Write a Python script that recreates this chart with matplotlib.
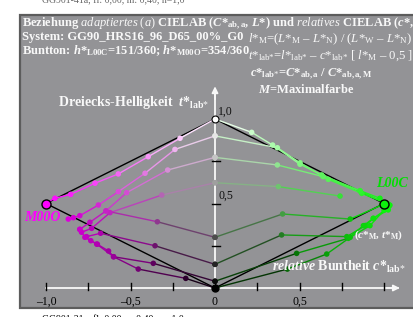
import numpy as np
import matplotlib
matplotlib.use("Agg")
from matplotlib import pyplot as plt
from matplotlib.patches import Rectangle

plt.rcParams['font.family'] = ['Liberation Serif', 'DejaVu Serif']
plt.rcParams['mathtext.fontset'] = 'custom'
plt.rcParams['mathtext.rm'] = 'Liberation Serif'
plt.rcParams['mathtext.it'] = 'Liberation Serif:italic'
plt.rcParams['mathtext.bf'] = 'Liberation Serif:bold'
plt.rcParams['mathtext.bfit'] = 'Liberation Serif:italic:bold'

# left side (hue M00O), relative chroma plotted negative
magenta_c = [
    [0, -0.207, -0.395, -0.572, -0.71, -0.854, -0.947, -1.0],
    [0, -0.237, -0.414, -0.572, -0.69, -0.80, -0.838, -0.868],
    [0, -0.28, -0.523, -0.645, -0.74, -0.80],
    [0, -0.315, -0.621, -0.73, -0.79],
    [0, -0.341, -0.645],
    [0, -0.355, -0.677, -0.76],
    [0, -0.365, -0.60, -0.63, -0.696, -0.735],
    [0, -0.173, -0.454, -0.60, -0.70, -0.77, -0.80],
]
magenta_t = [
    [1.0, 0.886, 0.777, 0.675, 0.62, 0.554, 0.531, 0.503],
    [0.90, 0.82, 0.679, 0.570, 0.491, 0.428, 0.416, 0.408],
    [0.773, 0.698, 0.564, 0.456, 0.389, 0.347],
    [0.623, 0.55, 0.446, 0.353, 0.33],
    [0.30, 0.392, 0.456],
    [0.14, 0.25, 0.324, 0.304],
    [0.04, 0.146, 0.185, 0.219, 0.259, 0.28],
    [0.0, 0.057, 0.112, 0.185, 0.26, 0.30, 0.347],
]

# right side (hue L00C)
green_c = [
    [0, 0.217, 0.341, 0.503, 0.631, 0.858, 0.976, 1.03],
    [0, 0.369, 0.503, 0.67, 0.868, 1.025],
    [0, 0.369, 0.64, 0.86, 1.035],
    [0, 0.375, 0.74],
    [0, 0.40, 0.80, 0.985],
    [0, 0.394, 0.78, 0.89, 0.937, 1.02],
    [0, 0.483, 0.789, 0.878, 0.937, 1.025],
    [0, 0.428, 0.661, 0.80, 0.917, 1.0],
]
green_t = [
    [1.0, 0.921, 0.846, 0.732, 0.669, 0.576, 0.531, 0.485],
    [0.90, 0.830, 0.741, 0.643, 0.560, 0.497],
    [0.773, 0.728, 0.659, 0.572, 0.49],
    [0.623, 0.600, 0.544],
    [0.30, 0.438, 0.408, 0.49],
    [0.14, 0.314, 0.304, 0.37, 0.412, 0.47],
    [0.04, 0.205, 0.294, 0.369, 0.412, 0.462],
    [0.0, 0.112, 0.201, 0.30, 0.369, 0.46],
]

triangle_c = [0, -1.0, 0, 1.0, 0]
triangle_t = [1.0, 0.5, 0.0, 0.5, 1.0]

x_ticks = [-1.0, -0.75, -0.5, -0.25, 0.0, 0.25, 0.5, 0.75, 1.0]
x_tick_labels = {-1.0: "\u20131,0", -0.5: "\u20130,5", 0.0: "0", 0.5: "0,5"}
y_ticks = [0.25, 0.5, 0.75]

MAGENTA = np.array([1.0, 0.0, 1.0])
GREEN = np.array([0.05, 0.95, 0.05])
BG = '#939396'
WHITE = '#f8f8f8'
D = "\u2013"
ST = r"\text{*}"


def mix(c, t, hue):
    a = min(abs(c), 1.0)
    w = min(max(t - a / 2, 0.0), 1.0 - a)
    return np.clip(a * hue + w, 0, 1)


fig = plt.figure(figsize=(4.13, 3.17), dpi=100)
ax = fig.add_axes([0, 0, 1, 1])
ax.set_xlim(-215 / 169, (413 - 215) / 169)
ax.set_ylim(-29 / 169, (317 - 29) / 169)
ax.axis('off')
ax.add_patch(Rectangle((20 / 413, 1 - 308 / 317), 1.0, (308 - 15) / 317,
                       transform=ax.transAxes, facecolor=BG, edgecolor='#5c5c5c',
                       linewidth=1.6, zorder=0, clip_on=False))

# axes
ax.plot([-1.0, 1.08], [0, 0], color=WHITE, lw=1.3, zorder=1)
ax.annotate('', xy=(1.11, 0), xytext=(1.0, 0),
            arrowprops=dict(arrowstyle='-|>', color=WHITE, lw=1.3, mutation_scale=9))
ax.plot([0, 0], [0, 1.17], color=WHITE, lw=1.3, zorder=1)
ax.annotate('', xy=(0, 1.21), xytext=(0, 1.1),
            arrowprops=dict(arrowstyle='-|>', color=WHITE, lw=1.3, mutation_scale=9))
for x in x_ticks:
    ax.plot([x, x], [-0.012, 0.028], color='black', lw=1.0, zorder=2)
for y in y_ticks:
    ax.plot([-0.016, 0.03], [y, y], color='black', lw=1.0, zorder=2)
for x, lab in x_tick_labels.items():
    ax.text(x, -0.045, lab, ha='center', va='top', fontsize=8.5, color='black')
ax.text(0.02, 1.01, "1,0", ha='left', va='bottom', fontsize=8.5, color='#111111')
ax.text(0.02, 0.51, "0,5", ha='left', va='bottom', fontsize=8.5, color='#111111')

# triangle
ax.plot(triangle_c, triangle_t, color='black', lw=1.0, zorder=3)

for cs, ts, hue in [(magenta_c, magenta_t, MAGENTA), (green_c, green_t, GREEN)]:
    for c_line, t_line in zip(cs, ts):
        cols = [mix(c, t, hue) for c, t in zip(c_line, t_line)]
        for i in range(len(c_line) - 1):
            ax.plot(c_line[i:i + 2], t_line[i:i + 2], color=(cols[i] + cols[i + 1]) / 2,
                    lw=1.0, zorder=4)
        ax.scatter(c_line, t_line, s=16, c=cols, edgecolors='none', zorder=5)

ax.plot(-1.0, 0.5, 'o', ms=6.5, mfc=MAGENTA, mec='black', mew=1.0, zorder=6)
ax.plot(1.0, 0.5, 'o', ms=6.5, mfc=GREEN, mec='black', mew=1.0, zorder=6)
ax.plot(0, 1.0, 'o', ms=5, mfc='white', mec='black', mew=0.8, zorder=6)
ax.plot(0, 0.0, 'o', ms=5, mfc='black', mec='black', zorder=6)

ax.text(-1.13, 0.42, "M00O", fontsize=10, fontweight='bold', fontstyle='italic',
        color='#ff00ff', ha='left', va='center', zorder=7)
ax.text(1.14, 0.62, "L00C", fontsize=10, fontweight='bold', fontstyle='italic',
        color='#00e000', ha='right', va='center', zorder=7)
ax.text(0.82, 0.31, r"($\mathbfit{c}$*$_{\mathbf{M}}$, $\mathbfit{t}$*$_{\mathbf{M}}$)",
        fontsize=8, fontweight='bold', color=WHITE, ha='left', va='center', zorder=7)
ax.text(0.34, 0.075, r"$\mathbfit{relative}$ Buntheit $\mathbfit{c}$*$_{\mathbf{lab}" + ST + "}$",
        fontsize=10, fontweight='bold', color=WHITE, ha='left', va='bottom', zorder=7)
ax.text(-0.93, 1.045, r"Dreiecks-Helligkeit  $\mathbfit{t}$*$_{\mathbf{lab}" + ST + "}$",
        fontsize=10, fontweight='bold', color=WHITE, ha='left', va='bottom', zorder=7)


# header
def ftext(x, y, s, **kw):
    fig.text(x / 413, 1 - y / 317, s, color=WHITE, va='baseline', ha='left', **kw)


ftext(22, 27, r"Beziehung $\mathit{adaptiertes\ (a)}$ CIELAB ($\mathbfit{C}$*$_{\mathbf{ab,a}}$, "
      r"$\mathbfit{L}$*) und $\mathit{relatives}$ CIELAB ($\mathbfit{c}$*, $\mathbfit{t}$*)",
      fontsize=9, fontweight='bold')
ftext(22, 40, "System: GG90_HRS16_96_D65_00%_G0", fontsize=9, fontweight='bold')
ftext(22, 54, r"Buntton: $\mathbfit{h}$*$_{\mathbf{L00C}}$=151/360; $\mathbfit{h}$*$_{\mathbf{M00O}}$=354/360",
      fontsize=9, fontweight='bold')
ftext(248, 42, r"$\mathit{l}$*$_{\mathrm{M}}$=($\mathit{L}$*$_{\mathrm{M}}$ " + D + r" $\mathit{L}$*$_{\mathrm{N}}$) / "
      r"($\mathit{L}$*$_{\mathrm{W}}$ " + D + r" $\mathit{L}$*$_{\mathrm{N}}$)", fontsize=9.2)
ftext(248, 59, r"$\mathit{t}$*$_{\mathrm{lab}" + ST + r"}$=$\mathit{l}$*$_{\mathrm{lab}" + ST + "}$ " + D +
      r" $\mathit{c}$*$_{\mathrm{lab}" + ST + r"}$ [ $\mathit{l}$*$_{\mathrm{M}}$ " + D + " 0,5 ]",
      fontsize=9.2)
ftext(250, 77, r"$\mathbfit{c}$*$_{\mathbf{lab}" + ST + r"}$=$\mathbfit{C}$*$_{\mathbf{ab,a}}$ / "
      r"$\mathbfit{C}$*$_{\mathbf{ab,a,M}}$", fontsize=9, fontweight='bold')
ftext(258, 93, r"$\mathbfit{M}$=Maximalfarbe", fontsize=9, fontweight='bold')

fig.text(42 / 413, 1 - 3 / 317, "GG901-41a, fl: 0,00, m: 0,40, n=1,0", fontsize=7,
         color='#666666', va='baseline')
fig.text(42 / 413, 1 - 322 / 317, "GG901-31a, fl: 0,00, a: 0,40, m=1,0", fontsize=7,
         color='black', va='baseline')

plt.savefig('out.png', dpi=100)
plt.close()
